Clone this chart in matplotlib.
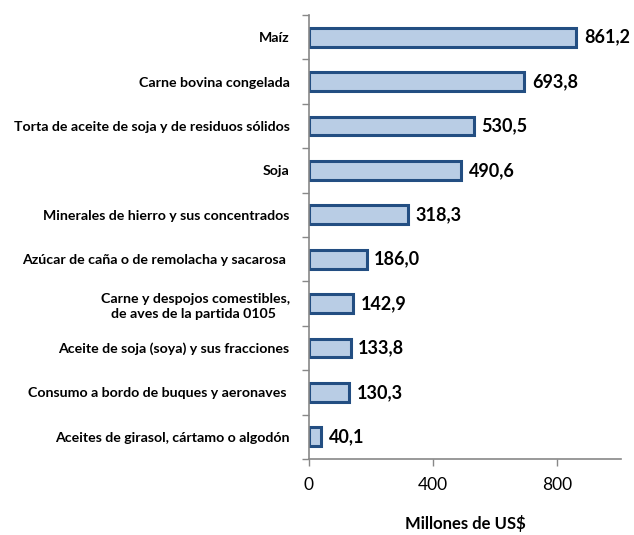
import matplotlib
matplotlib.use("Agg")
import matplotlib.pyplot as plt
import numpy as np

# datos
productos = [
    "Maíz",
    "Carne bovina congelada",
    "Torta de aceite de soja y de residuos sólidos",
    "Soja",
    "Minerales de hierro y sus concentrados",
    "Azúcar de caña o de remolacha y sacarosa ",
    "Carne y despojos comestibles,\nde aves de la partida 0105 ",
    "Aceite de soja (soya) y sus fracciones",
    "Consumo a bordo de buques y aeronaves ",
    "Aceites de girasol, cártamo o algodón",
]
valores = [861.2, 693.8, 530.5, 490.6, 318.3, 186.0, 142.9, 133.8, 130.3, 40.1]
xticks = [0, 400, 800]

plt.rcParams['font.family'] = ['Lato', 'DejaVu Sans']

fig = plt.figure(figsize=(6.34, 5.35), dpi=100)
ax = fig.add_axes([309/634, 1 - 459/535, (621-309)/634, (459-15)/535])

y = np.arange(len(productos))
ax.barh(y, valores, height=0.42, color="#B9CDE5", edgecolor="#234E82", linewidth=2.2)

for yi, v in zip(y, valores):
    etiqueta = f"{v:.1f}".replace(".", ",")
    ax.text(v + 24, yi, etiqueta, va="center", ha="left", fontsize=13, fontweight="bold", color="black")

ax.set_ylim(len(productos) - 0.5, -0.5)
ax.set_xlim(0, 1005)
ax.set_yticks(y)
ax.set_yticklabels(productos, fontsize=10.2, fontweight="bold", linespacing=1.35)
ax.set_yticks(np.arange(len(productos) + 1) - 0.5, minor=True)
ax.tick_params(axis="y", which="major", length=0, pad=14)
ax.tick_params(axis="y", which="minor", length=5, color="#888888", width=1)
ax.set_xticks(xticks)
ax.tick_params(axis="x", length=5, color="#888888", width=1, labelsize=12.5, pad=8)
for lab in ax.get_yticklabels():
    lab.set_multialignment("center")

ax.spines["top"].set_visible(False)
ax.spines["right"].set_visible(False)
ax.spines["left"].set_color("#888888")
ax.spines["bottom"].set_color("#888888")
ax.spines["left"].set_linewidth(1.2)
ax.spines["bottom"].set_linewidth(1.2)

ax.set_xlabel("Millones de US$", fontsize=12, fontweight="bold", labelpad=16)

fig.savefig("out.png", dpi=100)
